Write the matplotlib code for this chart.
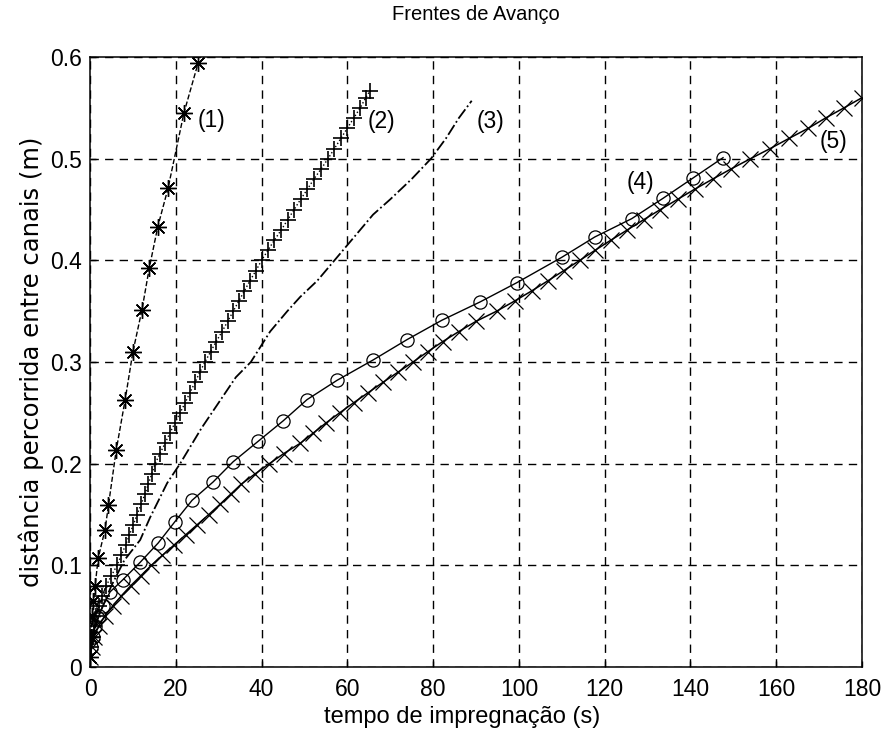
"""
Frentes de avanco - tempo de impregnacao vs distancia percorrida
"""
import matplotlib
matplotlib.use('Agg')
import matplotlib.pyplot as plt

# curva (1) - asteriscos
t1 = [0.0, 0.2, 0.5, 0.8, 1.2, 1.9, 3.5, 4.3, 6.1, 8.2, 10.0, 12.1, 13.8, 15.8, 18.2, 21.9, 25.2]
d1 = [0.01, 0.03, 0.05, 0.065, 0.08, 0.107, 0.135, 0.159, 0.213, 0.263, 0.31, 0.351, 0.392,
      0.433, 0.471, 0.545, 0.594]

# curva (2) - cruzes "+"
t2 = [0.3, 0.6, 1.0, 1.5, 2.1, 2.9, 3.8, 5.0, 6.3, 7.3, 8.3, 9.2, 10.1, 11.0, 11.9, 12.8, 13.6,
      14.4, 15.2, 16.3, 17.5, 18.6, 19.8, 21.0, 22.2, 23.3, 24.5, 25.6, 26.8, 28.1, 29.4, 30.8,
      32.1, 33.4, 34.7, 36.0, 37.3, 38.7, 40.0, 41.5, 43.0, 44.6, 46.1, 47.6, 49.1, 50.7, 52.2,
      53.9, 55.5, 57.0, 58.5, 60.0, 61.5, 63.0, 64.3, 65.3]
d2 = [0.02, 0.03, 0.04, 0.05, 0.06, 0.07, 0.08, 0.09, 0.10, 0.11, 0.12, 0.13, 0.14, 0.15, 0.16,
      0.17, 0.18, 0.19, 0.20, 0.21, 0.22, 0.23, 0.24, 0.25, 0.26, 0.27, 0.28, 0.29, 0.30, 0.31,
      0.32, 0.33, 0.34, 0.35, 0.36, 0.37, 0.38, 0.39, 0.40, 0.41, 0.42, 0.43, 0.44, 0.45, 0.46,
      0.47, 0.48, 0.49, 0.50, 0.51, 0.52, 0.53, 0.54, 0.55, 0.56, 0.567]

# curva (3) - pontos
t3 = [0.0, 2.0, 5.0, 8.0, 11.7, 14.0, 18.0, 21.0, 26.0, 30.0, 34.0, 37.5, 42.0, 46.0, 49.0,
      53.0, 57.0, 62.0, 66.0, 70.0, 75.0, 79.5, 83.0, 86.0, 89.0]
d3 = [0.02, 0.05, 0.08, 0.105, 0.125, 0.147, 0.181, 0.20, 0.235, 0.26, 0.285, 0.30, 0.33, 0.35,
      0.364, 0.38, 0.40, 0.425, 0.445, 0.46, 0.48, 0.50, 0.52, 0.54, 0.557]

# curva (4) - circulos
t4 = [0.3, 0.6, 1.2, 2.0, 3.0, 4.7, 7.7, 11.7, 15.9, 19.8, 23.8, 28.7, 33.4, 39.2, 45.0, 50.6,
      57.6, 66.0, 73.9, 82.0, 90.9, 99.5, 110.0, 117.7, 126.3, 133.6, 140.6, 147.6]
d4 = [0.02, 0.03, 0.04, 0.05, 0.06, 0.074, 0.086, 0.103, 0.122, 0.143, 0.164, 0.182, 0.202,
      0.222, 0.242, 0.263, 0.282, 0.302, 0.322, 0.341, 0.359, 0.378, 0.403, 0.423, 0.441,
      0.461, 0.481, 0.501]

# curva (5) - "x"
t5 = [0.1, 0.4, 1.0, 2.0, 3.4, 5.3, 7.3, 9.5, 11.9, 14.3, 16.9, 19.6, 22.3, 25.0, 27.7, 30.3,
      32.8, 35.3, 38.5, 41.8, 45.2, 49.0, 52.0, 55.0, 58.2, 61.5, 64.9, 68.3, 71.8, 75.3, 78.7,
      82.2, 86.0, 90.0, 94.8, 99.0, 103.0, 106.8, 110.5, 114.2, 117.8, 121.5, 125.3, 129.1,
      133.0, 137.0, 141.0, 145.2, 149.5, 154.0, 158.6, 163.0, 167.5, 171.5, 175.8, 180.0]
d5 = [0.01, 0.02, 0.03, 0.04, 0.05, 0.06, 0.07, 0.08, 0.09, 0.10, 0.11, 0.12, 0.13, 0.14, 0.15,
      0.16, 0.17, 0.18, 0.19, 0.20, 0.21, 0.22, 0.23, 0.24, 0.25, 0.26, 0.27, 0.28, 0.29, 0.30,
      0.31, 0.32, 0.33, 0.34, 0.35, 0.36, 0.37, 0.38, 0.39, 0.40, 0.41, 0.42, 0.43, 0.44, 0.45,
      0.46, 0.47, 0.48, 0.49, 0.50, 0.51, 0.52, 0.53, 0.54, 0.55, 0.56]

labels = ['(1)', '(2)', '(3)', '(4)', '(5)']
label_t = [25.0, 64.8, 90.2, 125.2, 170.2]
label_d = [0.538, 0.537, 0.537, 0.477, 0.517]

xticks = [0, 20, 40, 60, 80, 100, 120, 140, 160, 180]
yticks = [0, 0.1, 0.2, 0.3, 0.4, 0.5, 0.6]
yticklabels = ['0', '0.1', '0.2', '0.3', '0.4', '0.5', '0.6']

plt.rcParams['font.family'] = ['Liberation Sans', 'DejaVu Sans']

fig = plt.figure(figsize=(8.85, 7.35), dpi=100)
ax = fig.add_axes([0.1017, 0.0925, 0.8723, 0.8299])

ax.plot(t1, d1, color='k', linestyle='--', lw=1, marker=(8, 2, 0), markersize=12, mew=1)
ax.plot(t2, d2, color='k', linestyle=':', lw=1, marker='+', markersize=11, mew=1.2)
ax.plot(t3, d3, color='k', linestyle='-.', lw=1.3)
ax.plot(t4, d4, color='k', linestyle='-', lw=1, marker='o', markersize=9.5, mew=0.9,
        markerfacecolor='none')
ax.plot(t5, d5, color='k', linestyle='-', lw=1.1, marker='x', markersize=11, mew=0.9)

for lab, x, y in zip(labels, label_t, label_d):
    ax.text(x, y, lab, ha='left', va='center', fontsize=16.5)

ax.set_xlim(0, 180)
ax.set_ylim(0, 0.6)
ax.set_xticks(xticks)
ax.set_yticks(yticks)
ax.set_yticklabels(yticklabels)
ax.tick_params(direction='in', length=4, labelsize=16.5, width=1)
ax.tick_params(axis='x', pad=8)
ax.tick_params(axis='y', pad=6)
ax.grid(True, color='k', linestyle=(0, (6, 4.5)), linewidth=1)
for s in ax.spines.values():
    s.set_linewidth(1.1)

ax.set_title('Frentes de Avanço', fontsize=14.5, pad=27)
ax.set_xlabel('tempo de impregnação (s)', fontsize=17)
ax.xaxis.set_label_coords(0.482, -0.064)
ax.xaxis.label.set_va('top')
ax.set_ylabel('distância percorrida entre canais (m)', fontsize=17.5, labelpad=4,
              family=['DejaVu Sans'])

fig.savefig('out.png', dpi=100)
